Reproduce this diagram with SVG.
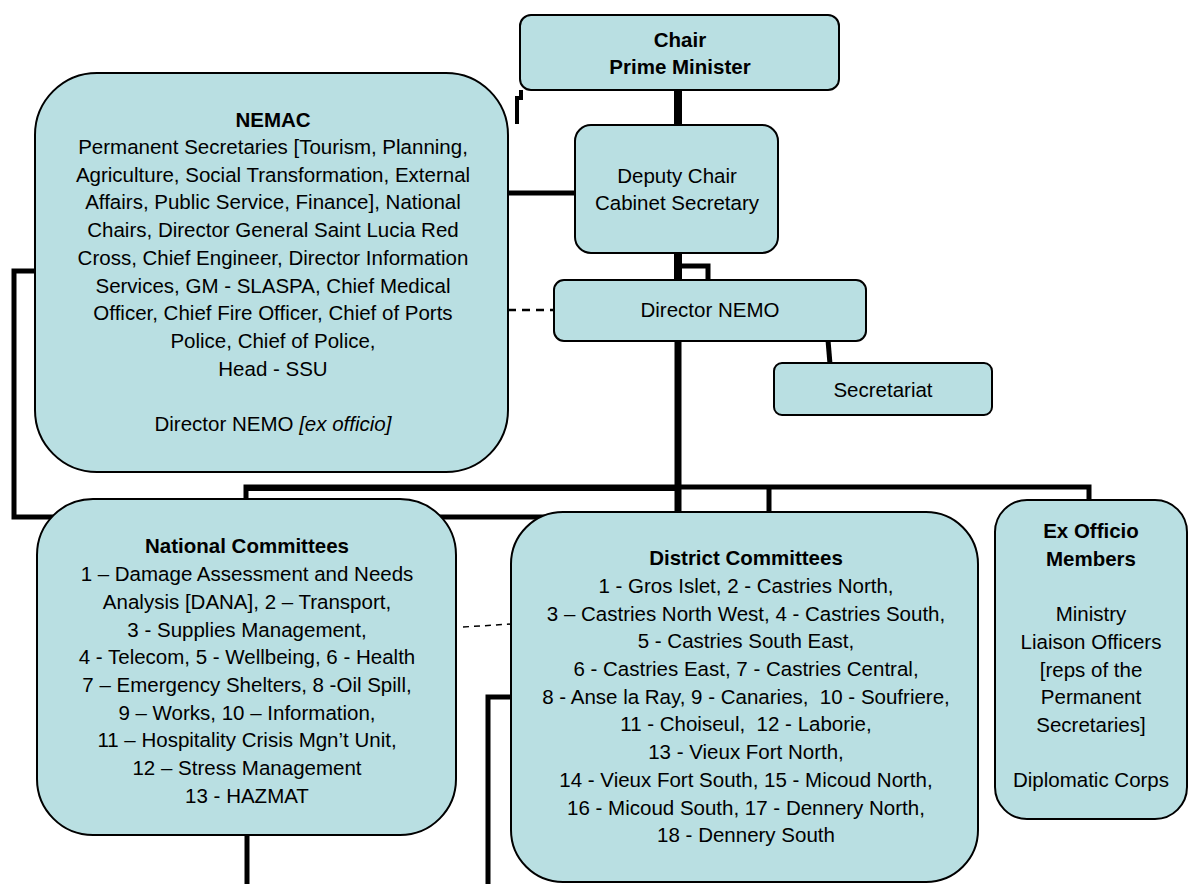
<svg xmlns="http://www.w3.org/2000/svg" width="1199" height="884" viewBox="0 0 1199 884">
<style>
.box{fill:#b9dfe2;stroke:#000;stroke-width:2}
.t{font-family:"Liberation Sans",Arial,sans-serif;font-size:20.5px;fill:#000;text-anchor:middle;white-space:pre}
.b{font-weight:bold}
.ln{fill:none;stroke:#000;stroke-width:5}
.dash{fill:none;stroke:#000;stroke-width:2.5;stroke-dasharray:8 6}
</style>
<rect width="1199" height="884" fill="#fff"/>
<g id="connectors">
  <path class="ln" d="M678,88 V127" style="stroke-width:8"/>
  <path class="ln" d="M521,90 V98 H517 V124" style="stroke-width:4"/>
  <path class="ln" d="M506,193 H582"/>
  <path class="ln" d="M678,251 V282" style="stroke-width:8"/>
  <path class="ln" d="M681,266 H708 V281"/>
  <path class="dash" d="M508,310 H555"/>
  <path class="ln" d="M828,340 L830,364"/>
  <path class="ln" d="M678,340 V514" style="stroke-width:7"/>
  <path class="ln" d="M246,501 V487 H1089 V501"/>
  <path class="ln" d="M246,489 H678" style="stroke-width:4"/>
  <path class="ln" d="M769,487 V514"/>
  <path class="ln" d="M37,271 H14 V517 H545"/>
  <path class="dash" d="M463,627 L511,624" style="stroke-width:1.5;stroke-dasharray:6 5"/>
  <path class="ln" d="M247,835 V884"/>
  <path class="ln" d="M513,697 H488 V884"/>
</g>
<g id="chair">
  <rect class="box" x="520" y="15" width="319" height="75" rx="11"/>
  <text class="t b" x="680" y="47">Chair</text>
  <text class="t b" x="680" y="74">Prime Minister</text>
</g>
<g id="nemac">
  <rect class="box" x="35" y="73" width="473" height="399" rx="62"/>
  <text class="t b" x="273" y="127">NEMAC</text>
  <text class="t" x="273" y="154">Permanent Secretaries [Tourism, Planning,</text>
  <text class="t" x="273" y="182">Agriculture, Social Transformation, External</text>
  <text class="t" x="273" y="209">Affairs, Public Service, Finance], National</text>
  <text class="t" x="273" y="237">Chairs, Director General Saint Lucia Red</text>
  <text class="t" x="273" y="265">Cross, Chief Engineer, Director Information</text>
  <text class="t" x="273" y="293">Services, GM - SLASPA, Chief Medical</text>
  <text class="t" x="273" y="320">Officer, Chief Fire Officer, Chief of Ports</text>
  <text class="t" x="273" y="348">Police, Chief of Police,</text>
  <text class="t" x="273" y="376">Head - SSU</text>
  <text class="t" x="273" y="431">Director NEMO <tspan font-style="italic">[ex officio]</tspan></text>
</g>
<g id="deputy">
  <rect class="box" x="575" y="125" width="203" height="128" rx="16"/>
  <text class="t" x="677" y="183">Deputy Chair</text>
  <text class="t" x="677" y="210">Cabinet Secretary</text>
</g>
<g id="director">
  <rect class="box" x="554" y="280" width="312" height="61" rx="10"/>
  <text class="t" x="710" y="317">Director NEMO</text>
</g>
<g id="secretariat">
  <rect class="box" x="774" y="363" width="218" height="52" rx="8"/>
  <text class="t" x="883" y="397">Secretariat</text>
</g>
<g id="national">
  <rect class="box" x="37" y="499" width="419" height="336" rx="56"/>
  <text class="t b" x="247" y="553">National Committees</text>
  <text class="t" x="247" y="581">1 – Damage Assessment and Needs</text>
  <text class="t" x="247" y="609">Analysis [DANA], 2 – Transport,</text>
  <text class="t" x="247" y="637">3 - Supplies Management,</text>
  <text class="t" x="247" y="664">4 - Telecom, 5 - Wellbeing, 6 - Health</text>
  <text class="t" x="247" y="692">7 – Emergency Shelters, 8 -Oil Spill,</text>
  <text class="t" x="247" y="720">9 – Works, 10 – Information,</text>
  <text class="t" x="247" y="747">11 – Hospitality Crisis Mgn’t Unit,</text>
  <text class="t" x="247" y="775">12 – Stress Management</text>
  <text class="t" x="247" y="803">13 - HAZMAT</text>
</g>
<g id="district">
  <rect class="box" x="511" y="512" width="467" height="370" rx="52"/>
  <text class="t b" x="746" y="565">District Committees</text>
  <text class="t" x="746" y="593">1 - Gros Islet, 2 - Castries North,</text>
  <text class="t" x="746" y="621">3 – Castries North West, 4 - Castries South,</text>
  <text class="t" x="746" y="648">5 - Castries South East,</text>
  <text class="t" x="746" y="676">6 - Castries East, 7 - Castries Central,</text>
  <text class="t" x="746" y="704">8 - Anse la Ray, 9 - Canaries,  10 - Soufriere,</text>
  <text class="t" x="746" y="731">11 - Choiseul,  12 - Laborie,</text>
  <text class="t" x="746" y="759">13 - Vieux Fort North,</text>
  <text class="t" x="746" y="787">14 - Vieux Fort South, 15 - Micoud North,</text>
  <text class="t" x="746" y="815">16 - Micoud South, 17 - Dennery North,</text>
  <text class="t" x="746" y="842">18 - Dennery South</text>
</g>
<g id="exofficio">
  <rect class="box" x="995" y="500" width="192" height="319" rx="32"/>
  <text class="t b" x="1091" y="538">Ex Officio</text>
  <text class="t b" x="1091" y="566">Members</text>
  <text class="t" x="1091" y="621">Ministry</text>
  <text class="t" x="1091" y="649">Liaison Officers</text>
  <text class="t" x="1091" y="677">[reps of the</text>
  <text class="t" x="1091" y="704">Permanent</text>
  <text class="t" x="1091" y="732">Secretaries]</text>
  <text class="t" x="1091" y="787">Diplomatic Corps</text>
</g>
</svg>
